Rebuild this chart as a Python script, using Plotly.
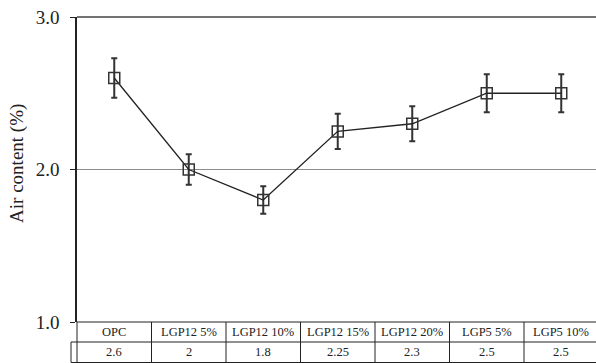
import plotly.graph_objects as go

# Mix designs, measured air content and its spread
mixes = ["OPC", "LGP12 5%", "LGP12 10%", "LGP12 15%", "LGP12 20%", "LGP5 5%", "LGP5 10%"]
air_content = [2.6, 2.0, 1.8, 2.25, 2.3, 2.5, 2.5]
air_error = [0.13, 0.10, 0.09, 0.115, 0.115, 0.125, 0.125]
value_labels = ["2.6", "2", "1.8", "2.25", "2.3", "2.5", "2.5"]
y_ticks = [1, 2, 3]
y_tick_text = ["1.0", "2.0", "3.0"]

FONT = "Liberation Serif, DejaVu Serif, serif"
W, H = 596, 363
ML, MR, MT, MB = 77, 0, 17, 41
plot_h = H - MT - MB
plot_w = W - ML - MR
col_w = 74.5

x_idx = list(range(len(mixes)))

fig = go.Figure()
fig.add_trace(go.Scatter(
    x=x_idx, y=air_content,
    mode="lines+markers",
    line=dict(color="#222222", width=1.3),
    marker=dict(symbol="square-open", size=11, color="#333333", line=dict(width=1.5)),
    error_y=dict(type="data", array=air_error, visible=True,
                 color="#333333", thickness=2, width=3),
    showlegend=False,
))

# Data table under the plot: header row (mix names) and value row
row_h = 20 / plot_h
y_top, y_mid, y_bot = 0.0, -row_h, -2 * row_h - 0.5 / plot_h
key_x = -6 / plot_w
line_style = dict(color="#222222", width=1)

shapes = [
    # top frame line at 3.0
    dict(type="line", xref="paper", yref="paper", x0=0, x1=1, y0=1, y1=1,
         line=dict(color="#444444", width=1.5)),
    dict(type="line", xref="paper", yref="paper", x0=0, x1=1, y0=y_top, y1=y_top, line=line_style),
    dict(type="line", xref="paper", yref="paper", x0=key_x, x1=1, y0=y_mid, y1=y_mid, line=line_style),
    dict(type="line", xref="paper", yref="paper", x0=key_x, x1=1, y0=y_bot, y1=y_bot, line=line_style),
    dict(type="line", xref="paper", yref="paper", x0=key_x, x1=key_x, y0=y_mid, y1=y_bot, line=line_style),
    dict(type="line", xref="paper", yref="paper", x0=0, x1=0, y0=y_top, y1=y_bot, line=line_style),
]
for i in range(1, len(mixes) + 1):
    shapes.append(dict(type="line", xref="x", yref="paper", x0=i - 0.5, x1=i - 0.5,
                       y0=y_top, y1=y_bot, line=line_style))

annotations = []
for i, (name, val) in enumerate(zip(mixes, value_labels)):
    annotations.append(dict(x=i, y=(y_top + y_mid) / 2, xref="x", yref="paper", text=name,
                            showarrow=False, xanchor="center", yanchor="middle",
                            font=dict(family=FONT, size=12.5, color="#222222")))
    annotations.append(dict(x=i, y=(y_mid + y_bot) / 2, xref="x", yref="paper", text=val,
                            showarrow=False, xanchor="center", yanchor="middle",
                            font=dict(family=FONT, size=12.5, color="#222222")))

annotations.append(dict(x=(17.5 - ML) / plot_w, y=0.52, xref="paper", yref="paper",
                        text="Air content (%)", textangle=-90, showarrow=False,
                        xanchor="center", yanchor="middle",
                        font=dict(family=FONT, size=19, color="#222222")))

fig.update_layout(
    width=W, height=H,
    margin=dict(l=ML, r=MR, t=MT, b=MB, pad=0),
    paper_bgcolor="white", plot_bgcolor="white",
    shapes=shapes, annotations=annotations,
    xaxis=dict(range=[-0.5, -0.5 + plot_w / col_w], showticklabels=False, ticks="",
               showgrid=False, zeroline=False, showline=False, fixedrange=True),
    yaxis=dict(range=[1, 3], tickvals=y_ticks, ticktext=y_tick_text,
               ticks="outside", ticklen=5, tickcolor="#222222", tickwidth=1.2,
               ticklabelstandoff=7,
               tickfont=dict(family=FONT, size=19, color="#222222"),
               showgrid=True, gridcolor="#8c8c8c", gridwidth=1,
               zeroline=False, showline=True, linecolor="#222222", linewidth=1.5),
)

fig.write_html("out.html")
